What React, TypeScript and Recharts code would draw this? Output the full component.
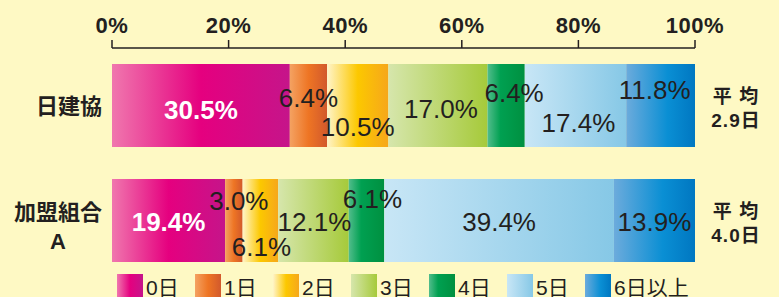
import { BarChart, Bar, XAxis, YAxis, LabelList, Legend } from 'recharts';

const categories = ['日建協', '加盟組合\nA'];
const dayLabels = ['0日', '1日', '2日', '3日', '4日', '5日', '6日以上'];
const nikkenkyo = [30.5, 6.4, 10.5, 17.0, 6.4, 17.4, 11.8];
const kameiA = [19.4, 3.0, 6.1, 12.1, 6.1, 39.4, 13.9];
const averages = ['2.9日', '4.0日'];
const xTicks = [0, 20, 40, 60, 80, 100];

const rows = [nikkenkyo, kameiA];

const FONT = "'Liberation Sans', Arial, 'Noto Sans CJK JP', sans-serif";
const INK = '#231f20';
const BG = '#fef9c4';

// left-to-right gradient per day bucket
const GRADIENTS: [number, string][][] = [
  [[0, '#f077ae'], [0.5, '#e5007f'], [1, '#c5158a']],
  [[0, '#f4a262'], [0.5, '#ee7524'], [1, '#d2592c']],
  [[0, '#fff4c8'], [0.5, '#fcc800'], [1, '#f6a71b']],
  [[0, '#d6e6ac'], [1, '#a6ca3a']],
  [[0, '#52bd8c'], [0.35, '#00a051'], [1, '#009040']],
  [[0, '#c8e6f6'], [1, '#86c8e6']],
  [[0, '#6cabdc'], [0.6, '#0a8fd4'], [1, '#0077c1']],
];

// label nudges [dx, dy] so the small segments don't collide
const LABEL_SHIFT: [number, number][][] = [
  [[0, 4], [0, -8], [0, 21], [3, 3], [8, -13], [3, 17], [-6, -16]],
  [[0, 1], [5, -20], [1, 26], [1, 1], [6, -22], [0, 1], [0, 1]],
];

const chartData = categories.map((name, r) => {
  const row: Record<string, string | number> = { name };
  rows[r].forEach((v, i) => {
    row[`d${i}`] = v;
  });
  return row;
});

function CategoryTick(props: any) {
  const { x, y, payload } = props;
  const lines = String(payload.value).split('\n');
  if (lines.length === 1) {
    return (
      <text x={x} y={y + 1} textAnchor="end" dominantBaseline="central"
        fontFamily={FONT} fontSize={22} fontWeight="bold" fill={INK}>
        {lines[0]}
      </text>
    );
  }
  const firstWidth = lines[0].length * 22;
  return (
    <g>
      <text x={x} y={y - 8} textAnchor="end" dominantBaseline="central"
        fontFamily={FONT} fontSize={22} fontWeight="bold" fill={INK}>
        {lines[0]}
      </text>
      <text x={x - firstWidth / 2} y={y + 21} textAnchor="middle" dominantBaseline="central"
        fontFamily={FONT} fontSize={22} fontWeight="bold" fill={INK}>
        {lines[1]}
      </text>
    </g>
  );
}

function AverageTick(props: any) {
  const { x, y, index } = props;
  return (
    <g>
      <text x={x} y={y - 9} textAnchor="middle" dominantBaseline="central"
        fontFamily={FONT} fontSize={19} fontWeight="bold" fill={INK} letterSpacing={1}>
        平 均
      </text>
      <text x={x} y={y + 15} textAnchor="middle" dominantBaseline="central"
        fontFamily={FONT} fontSize={19} fontWeight="bold" fill={INK} letterSpacing={1}>
        {averages[index]}
      </text>
    </g>
  );
}

function makeLabel(seg: number) {
  return (props: any) => {
    const { x, y, width, height, value, index } = props;
    const [dx, dy] = LABEL_SHIFT[index][seg];
    const white = seg === 0;
    return (
      <text
        x={x + width / 2 + dx}
        y={y + height / 2 + dy}
        textAnchor="middle"
        dominantBaseline="central"
        fontFamily={FONT}
        fontSize={26}
        fontWeight={white ? 'bold' : 'normal'}
        fill={white ? '#ffffff' : INK}
      >
        {Number(value).toFixed(1)}%
      </text>
    );
  };
}

function cssGradient(stops: [number, string][]) {
  return `linear-gradient(to right, ${stops.map(([o, c]) => `${c} ${o * 100}%`).join(', ')})`;
}

function DayLegend() {
  return (
    <div style={{ display: 'flex', paddingLeft: 117, fontFamily: FONT, fontSize: 21, color: INK, whiteSpace: 'nowrap' }}>
      {dayLabels.map((label, i) => (
        <div key={label} style={{ display: 'flex', alignItems: 'flex-start', width: 78, flexShrink: 0 }}>
          <div style={{ width: 26, height: 26, background: cssGradient(GRADIENTS[i]), flexShrink: 0 }} />
          <span style={{ marginLeft: 3, lineHeight: '28px' }}>{label}</span>
        </div>
      ))}
    </div>
  );
}

export default function App() {
  return (
    <div style={{ position: 'absolute', left: 0, top: 0, width: 779, height: 297, background: BG, overflow: 'hidden' }}>
      <BarChart
        width={779}
        height={297}
        data={chartData}
        layout="vertical"
        margin={{ top: 0, right: 0, left: 0, bottom: 19 }}
      >
        <defs>
          {GRADIENTS.map((stops, i) => (
            <linearGradient key={i} id={`grad${i}`} x1="0" y1="0" x2="1" y2="0">
              {stops.map(([o, c]) => (
                <stop key={o} offset={o} stopColor={c} />
              ))}
            </linearGradient>
          ))}
        </defs>
        <XAxis
          type="number"
          orientation="top"
          height={48}
          domain={[0, 100]}
          allowDataOverflow
          ticks={xTicks}
          interval={0}
          tickFormatter={(v: number) => `${v}%`}
          axisLine={{ stroke: INK, strokeWidth: 1.5 }}
          tickLine={{ stroke: INK, strokeWidth: 1.5 }}
          tickSize={8}
          tickMargin={7}
          tick={{ fontSize: 22, fontWeight: 'bold', fill: INK, fontFamily: FONT, letterSpacing: 0.5 }}
        />
        <YAxis
          yAxisId="left"
          type="category"
          dataKey="name"
          width={112}
          axisLine={false}
          tickLine={false}
          tickSize={0}
          tickMargin={10}
          tick={<CategoryTick />}
        />
        <YAxis
          yAxisId="right"
          orientation="right"
          type="category"
          dataKey="name"
          width={84}
          axisLine={false}
          tickLine={false}
          tickSize={0}
          tickMargin={41}
          tick={<AverageTick />}
        />
        <Legend
          layout="horizontal"
          verticalAlign="middle"
          align="center"
          wrapperStyle={{ top: 274, left: 0, width: 779 }}
          content={<DayLegend />}
        />
        {dayLabels.map((label, i) => (
          <Bar
            key={label}
            yAxisId="left"
            dataKey={`d${i}`}
            name={label}
            stackId="days"
            barSize={83}
            fill={`url(#grad${i})`}
            isAnimationActive={false}
          >
            <LabelList dataKey={`d${i}`} content={makeLabel(i)} />
          </Bar>
        ))}
      </BarChart>
    </div>
  );
}
